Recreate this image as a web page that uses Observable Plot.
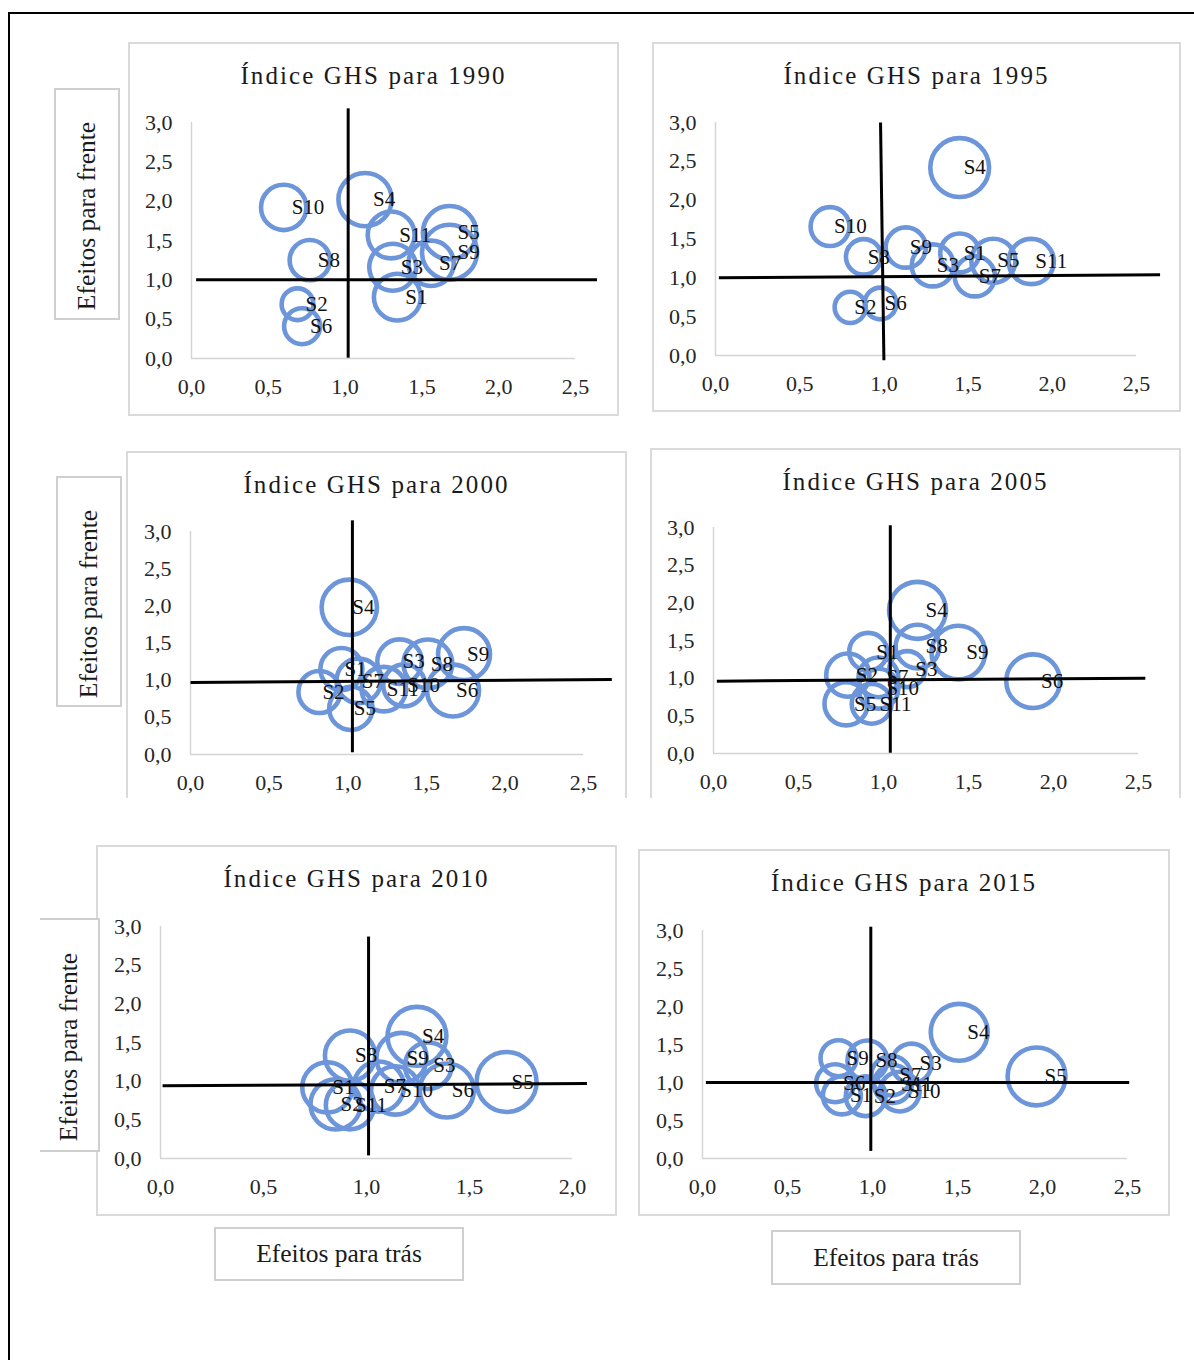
<!DOCTYPE html>
<html>
<head>
<meta charset="utf-8">
<script src="https://cdn.jsdelivr.net/npm/d3@7"></script>
<script src="https://cdn.jsdelivr.net/npm/@observablehq/plot@0.6"></script>
<style>
html,body{margin:0;padding:0;background:#fff;}
body{width:1194px;height:1360px;position:relative;overflow:hidden;font-family:"Liberation Serif","Times New Roman",serif;}
.outer{position:absolute;left:8px;top:12px;width:1210px;height:1400px;border:2px solid #000;box-sizing:border-box;}
.frame{position:absolute;border:2px solid #dadada;box-sizing:border-box;background:#fff;}
.holder{position:absolute;}
.titulo{position:absolute;text-align:center;font-size:25px;line-height:30px;letter-spacing:2.1px;color:#1a1a1a;white-space:nowrap;}
.box{position:absolute;border:2px solid #cfcfcf;box-sizing:border-box;background:#fff;display:flex;align-items:center;justify-content:center;font-size:25.5px;color:#1a1a1a;white-space:nowrap;}
.box.vert{padding-top:24px;}
.box.vert span{display:block;transform:rotate(-90deg);}
</style>
</head>
<body>
<div class="outer"></div>
<script>
// ---------- data ----------
const setores = ["S1","S2","S3","S4","S5","S6","S7","S8","S9","S10","S11"];
const anos = ["1990","1995","2000","2005","2010","2015"];
const ticksX25 = [0, 0.5, 1, 1.5, 2, 2.5];
const ticksX20 = [0, 0.5, 1, 1.5, 2];
const ticksY = [0, 0.5, 1, 1.5, 2, 2.5, 3];

// Efeitos para trás (x), Efeitos para frente (y), tamanho da bolha, order S1..S11
const tras1990   = [1.34, 0.69, 1.31, 1.13, 1.68, 0.72, 1.56, 0.77, 1.68, 0.60, 1.30];
const frente1990 = [0.78, 0.69, 1.16, 2.02, 1.60, 0.41, 1.21, 1.25, 1.35, 1.92, 1.57];
const tam1990    = [0.61, 0.28, 0.61, 0.79, 0.79, 0.36, 0.57, 0.45, 0.84, 0.57, 0.61];

const tras1995   = [1.45, 0.80, 1.29, 1.45, 1.65, 0.98, 1.54, 0.88, 1.13, 0.68, 1.875];
const frente1995 = [1.32, 0.62, 1.16, 2.42, 1.22, 0.67, 1.02, 1.27, 1.39, 1.66, 1.21];
const tam1995    = [0.42, 0.27, 0.49, 0.96, 0.54, 0.28, 0.45, 0.35, 0.45, 0.42, 0.57];

const tras2000   = [0.96, 0.82, 1.33, 1.01, 1.02, 1.67, 1.07, 1.51, 1.74, 1.36, 1.23];
const frente2000 = [1.15, 0.84, 1.25, 1.98, 0.62, 0.86, 0.99, 1.22, 1.35, 0.93, 0.88];
const tam2000    = [0.49, 0.49, 0.55, 0.85, 0.52, 0.75, 0.55, 0.66, 0.75, 0.49, 0.55];

const tras2005   = [0.91, 0.79, 1.14, 1.20, 0.78, 1.88, 0.97, 1.20, 1.44, 0.97, 0.93];
const frente2005 = [1.35, 1.04, 1.12, 1.90, 0.66, 0.96, 1.01, 1.42, 1.34, 0.86, 0.66];
const tam2005    = [0.40, 0.52, 0.36, 0.90, 0.52, 0.80, 0.44, 0.53, 0.80, 0.44, 0.44];

const tras2010   = [0.81, 0.85, 1.30, 1.245, 1.68, 1.39, 1.06, 0.92, 1.17, 1.14, 0.92];
const frente2010 = [0.92, 0.70, 1.20, 1.58, 0.99, 0.88, 0.93, 1.33, 1.30, 0.88, 0.69];
const tam2010    = [0.70, 0.70, 0.60, 0.96, 1.00, 0.81, 0.70, 0.70, 0.70, 0.65, 0.65];

const tras2015   = [0.82, 0.96, 1.23, 1.51, 1.965, 0.78, 1.11, 0.97, 0.80, 1.16, 1.12];
const frente2015 = [0.83, 0.82, 1.25, 1.66, 1.08, 0.99, 1.09, 1.29, 1.32, 0.88, 0.98];
const tam2015    = [0.40, 0.44, 0.44, 0.90, 0.93, 0.40, 0.44, 0.44, 0.36, 0.44, 0.40];

// crosshair lines [x1, y1, x2, y2] in data units (vertical, horizontal)
const cruz1990 = [[1.02, 3.18, 1.02, 0.01], [0.03, 1.00, 2.64, 1.00]];
const cruz1995 = [[0.98, 3.00, 1.00, -0.06], [0.02, 1.00, 2.64, 1.04]];
const cruz2000 = [[1.03, 3.15, 1.03, 0.03], [0.00, 0.97, 2.68, 1.01]];
const cruz2005 = [[1.04, 3.03, 1.04, 0.01], [0.02, 0.96, 2.54, 1.00]];
const cruz2010 = [[1.01, 2.87, 1.01, 0.04], [0.01, 0.94, 2.07, 0.97]];
const cruz2015 = [[0.99, 3.05, 0.99, 0.10], [0.02, 1.00, 2.51, 1.00]];

// ---------- layout ----------
const series = {
  "1990": [tras1990, frente1990, tam1990, cruz1990, ticksX25],
  "1995": [tras1995, frente1995, tam1995, cruz1995, ticksX25],
  "2000": [tras2000, frente2000, tam2000, cruz2000, ticksX25],
  "2005": [tras2005, frente2005, tam2005, cruz2005, ticksX25],
  "2010": [tras2010, frente2010, tam2010, cruz2010, ticksX20],
  "2015": [tras2015, frente2015, tam2015, cruz2015, ticksX25]
};
const layout = {
  "1990": {l:128, t:42,  w:491, h:374, ml:63, mr:44, mt:80, mb:58, noBottom:false, dx:8},
  "1995": {l:652, t:42,  w:529, h:370, ml:63, mr:45, mt:80, mb:57, noBottom:false, dx:4},
  "2000": {l:126, t:451, w:501, h:347, ml:64, mr:44, mt:80, mb:44, noBottom:true,  dx:3},
  "2005": {l:650, t:448, w:531, h:350, ml:63, mr:43, mt:79, mb:45, noBottom:true,  dx:8},
  "2010": {l:96,  t:845, w:521, h:371, ml:64, mr:45, mt:81, mb:58, noBottom:false, dx:5},
  "2015": {l:638, t:849, w:532, h:367, ml:64, mr:43, mt:81, mb:58, noBottom:false, dx:8}
};
const fmt = d => d.toFixed(1).replace(".", ",");
const azul = "#6d95d9";

function addDiv(cls, css, html) {
  const d = document.createElement("div");
  d.className = cls;
  Object.assign(d.style, css);
  if (html !== undefined) d.innerHTML = html;
  document.body.appendChild(d);
  return d;
}

for (const ano of anos) {
  const L = layout[ano];
  const [xs, ys, vs, cruz, xt] = series[ano];
  const xmax = xt[xt.length - 1];
  const fr = addDiv("frame", {left:L.l+"px", top:L.t+"px", width:L.w+"px", height:L.h+"px"});
  if (L.noBottom) fr.style.borderBottom = "none";
  addDiv("titulo", {left:L.l+"px", width:L.w+"px", top:(L.t+19)+"px"}, "Índice GHS para " + ano);

  const data = setores.map((s, i) => ({setor: s, x: xs[i], y: ys[i], v: vs[i]}));
  const chart = Plot.plot({
    width: L.w, height: L.h,
    marginLeft: L.ml, marginRight: L.mr, marginTop: L.mt, marginBottom: L.mb,
    x: {domain: [0, xmax]},
    y: {domain: [0, 3]},
    r: {type: "sqrt", domain: [0, 1], range: [0, 30]},
    style: {fontFamily: "'Liberation Serif', 'Times New Roman', serif", fontSize: "22px", color: "#262626", background: "transparent", overflow: "visible"},
    marks: [
      Plot.ruleX([0], {y1: 0, y2: 3, stroke: "#d4d4d4", strokeWidth: 1.5}),
      Plot.ruleY([0], {x1: 0, x2: xmax, stroke: "#d4d4d4", strokeWidth: 1.5}),
      Plot.axisX({ticks: xt, tickSize: 0, tickPadding: 20, tickFormat: fmt, label: null, fontSize: 22}),
      Plot.axisY({ticks: ticksY, tickSize: 0, tickPadding: 19, tickFormat: fmt, label: null, fontSize: 22}),
      Plot.dot(data, {x: "x", y: "y", r: "v", stroke: azul, strokeWidth: 4.6, fill: "none"}),
      Plot.link(cruz, {x1: d => d[0], y1: d => d[1], x2: d => d[2], y2: d => d[3], stroke: "#000", strokeWidth: 3}),
      Plot.text(data, {x: "x", y: "y", text: "setor", textAnchor: "start", dx: L.dx, fontSize: 21, fill: "#111"})
    ]
  });
  const holder = addDiv("holder", {left:L.l+"px", top:L.t+"px", width:L.w+"px", height:L.h+"px"});
  holder.appendChild(chart);
}

// axis title boxes
addDiv("box vert", {left:"54px", top:"88px", width:"66px", height:"232px"}, "<span>Efeitos para frente</span>");
addDiv("box vert", {left:"56px", top:"476px", width:"66px", height:"231px"}, "<span>Efeitos para frente</span>");
const b5 = addDiv("box vert", {left:"40px", top:"918px", width:"60px", height:"234px"}, "<span>Efeitos para frente</span>");
b5.style.borderLeft = "none";
addDiv("box", {left:"214px", top:"1227px", width:"250px", height:"54px"}, "Efeitos para trás");
addDiv("box", {left:"771px", top:"1230px", width:"250px", height:"55px"}, "Efeitos para trás");
</script>
</body>
</html>
